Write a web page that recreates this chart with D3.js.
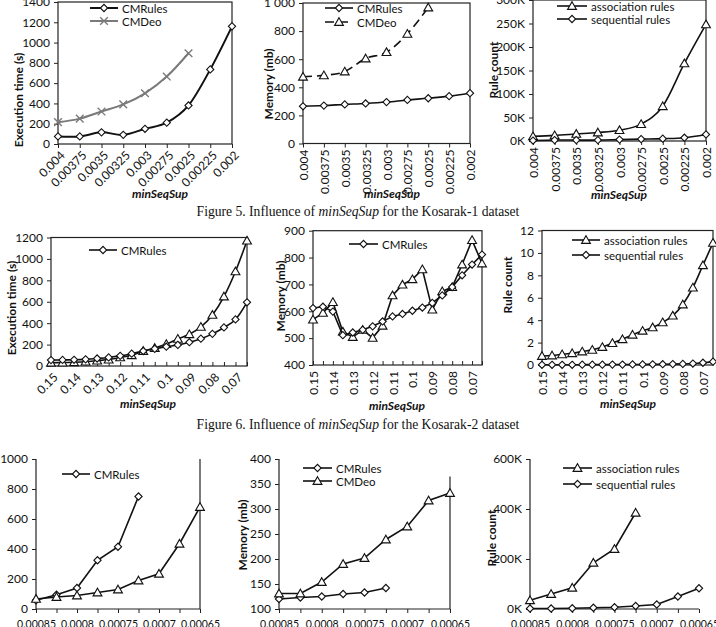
<!DOCTYPE html>
<html><head><meta charset="utf-8">
<script src="https://cdn.jsdelivr.net/npm/d3@7"></script>
<style>
body{margin:0;background:#fff}
svg text{font-family:Lato,"Open Sans",sans-serif;fill:#111}
</style>
</head><body>
<svg id="c" width="716" height="627"></svg>
<script>
// ---------- categories / tick labels ----------
const sup1 = ["0.004","0.00375","0.0035","0.00325","0.003","0.00275","0.0025","0.00225","0.002"];
const sup2 = ["0.15","0.145","0.14","0.135","0.13","0.125","0.12","0.115","0.11","0.105","0.1","0.095","0.09","0.085","0.08","0.075","0.07","0.065"];
const sup2Labels = ["0.15","0.14","0.13","0.12","0.11","0.1","0.09","0.08","0.07"];
const sup3 = ["0.00085","0.000825","0.0008","0.000775","0.00075","0.000725","0.0007","0.000675","0.00065"];
const sup3Labels = ["0.00085","0.0008","0.00075","0.0007","0.00065"];

// ---------- Figure 5 (Kosarak-1) ----------
const f5TimeCMRules = [75,75,115,90,150,210,380,735,1160];
const f5TimeCMDeo   = [215,250,320,390,500,665,895];
const f5MemCMRules  = [265,270,278,285,295,310,322,337,358];
const f5MemCMDeo    = [475,485,512,605,650,780,968];
const f5Assoc       = [10,12,15,18,23,36,74,165,248];   // thousands
const f5Seq         = [1,2,2,2,3,4,5,7,14];             // thousands
const f5TimeTicks = [0,200,400,600,800,1000,1200,1400];
const f5MemTicks  = [0,200,400,600,800,1000];
const f5RuleTicks = [0,50,100,150,200,250,300];

// ---------- Figure 6 (Kosarak-2) ----------
const f6TimeCMRules = [55,57,58,62,70,80,95,115,140,160,180,197,222,255,300,360,435,595];
const f6TimeOther   = [30,32,35,40,50,60,80,100,140,168,205,253,296,365,477,649,883,1170];
const f6MemCMRules  = [612,617,599,511,521,531,544,562,581,590,602,614,631,659,690,734,774,811];
const f6MemOther    = [569,594,634,524,504,531,501,546,659,699,719,756,606,674,690,774,865,778];
const f6Assoc       = [0.8,0.85,0.95,1.05,1.2,1.35,1.6,1.95,2.3,2.7,3.05,3.35,3.8,4.4,5.4,6.9,8.9,10.9];
const f6Seq         = [0.02,0.02,0.02,0.02,0.03,0.03,0.03,0.04,0.04,0.05,0.05,0.06,0.07,0.08,0.1,0.13,0.2,0.3];
const f6TimeTicks = [0,200,400,600,800,1000,1200];
const f6MemTicks  = [400,500,600,700,800,900];
const f6RuleTicks = [0,2,4,6,8,10,12];

// ---------- Figure 7 ----------
const f7TimeCMRules = [58,95,140,325,415,750];
const f7TimeOther   = [67,80,90,110,130,190,235,435,680];
const f7MemCMRules  = [120,123,125,130,133,142];
const f7MemCMDeo    = [131,131,154,190,202,239,265,317,332];
const f7Assoc       = [35,60,85,185,240,385];           // thousands
const f7Seq         = [2,2,3,5,7,12,18,50,83];          // thousands
const f7TimeTicks = [0,200,400,600,800,1000];
const f7MemTicks  = [100,150,200,250,300,350,400];
const f7RuleTicks = [0,200,400,600];

const svg = d3.select("#c");
const smooth = d3.curveCatmullRom.alpha(0);
const straight = d3.curveLinear;

function markerPath(type){
  if(type==="diamond") return d3.symbol(d3.symbolSquare, 26)();
  if(type==="triangle") return d3.symbol(d3.symbolTriangle, 34)();
  if(type==="x") return d3.symbol(d3.symbolTimes || d3.symbolX, 40)();
  return d3.symbol(d3.symbolCircle, 30)();
}
function markerTransform(type, px, py){
  if(type==="diamond") return `translate(${px},${py}) rotate(45)`;
  if(type==="triangle") return `translate(${px},${py+0.8})`;
  return `translate(${px},${py})`;
}

function panel(p){
  const g = svg.append("g");
  const x = d3.scalePoint().domain(p.cats).range([p.left, p.right]);
  const y = d3.scaleLinear().domain(p.yDomain).range([p.bottom, p.top]);

  // frame
  if(p.box){
    g.append("rect").attr("x",p.left).attr("y",p.top).attr("width",p.right-p.left)
     .attr("height",p.bottom-p.top).attr("fill","none").attr("stroke","#222").attr("stroke-width",1.2);
  } else {
    g.append("line").attr("x1",p.left).attr("x2",p.left).attr("y1",p.top).attr("y2",p.bottom)
     .attr("stroke","#222").attr("stroke-width",1.2);
    g.append("line").attr("x1",p.left).attr("x2",p.right).attr("y1",p.bottom).attr("y2",p.bottom)
     .attr("stroke","#222").attr("stroke-width",1.2);
    if(p.rightFrom!==undefined){
      g.append("line").attr("x1",p.right).attr("x2",p.right).attr("y1",y(p.rightFrom)).attr("y2",p.bottom)
       .attr("stroke","#222").attr("stroke-width",1.2);
    }
  }

  // y axis
  const ya = g.append("g").attr("transform",`translate(${p.left},0)`)
    .call(d3.axisLeft(y).tickValues(p.yTicks).tickFormat(p.yFmt).tickSize(4).tickPadding(4));
  ya.select(".domain").remove();
  ya.selectAll("line").attr("stroke","#222");
  ya.selectAll("text").attr("font-size",12).attr("fill","#111");

  // x tick marks (all categories)
  const xt = g.append("g").attr("transform",`translate(0,${p.bottom})`)
    .call(d3.axisBottom(x).tickFormat("").tickSize(p.xTickIn ? -4 : 4));
  xt.select(".domain").remove();
  xt.selectAll("line").attr("stroke","#222");

  // x labels
  const xl = g.append("g").attr("transform",`translate(0,${p.bottom})`)
    .call(d3.axisBottom(x).tickValues(p.xLabels).tickSize(0));
  xl.select(".domain").remove();
  const tx = xl.selectAll("text").attr("font-size",12).attr("fill","#111");
  if(p.rot===-45){
    tx.attr("text-anchor","end").attr("y",0).attr("dy",0)
      .attr("transform","translate(4,9) rotate(-45)").attr("dominant-baseline","central");
  } else if(p.rot===-90){
    tx.attr("text-anchor","end").attr("y",0).attr("x",0).attr("dy",0)
      .attr("transform","translate(0,6) rotate(-90)").attr("dominant-baseline","central");
  } else {
    tx.attr("y",p.xLabelY - p.bottom).attr("dy",0).attr("font-size",10.5);
  }

  // series
  p.series.forEach(s=>{
    const line = d3.line().x((d,i)=>x(p.cats[i])).y(d=>y(d)).curve(s.curve||straight);
    g.append("path").datum(s.values).attr("d",line).attr("fill","none")
      .attr("stroke",s.color||"#111").attr("stroke-width",s.width||1.6)
      .attr("stroke-dasharray",s.dash||null);
    g.selectAll(null).data(s.values).enter().append("path")
      .attr("d",markerPath(s.marker))
      .attr("transform",(d,i)=>markerTransform(s.marker,x(p.cats[i]),y(d)))
      .attr("fill",s.marker==="x"?"none":"#fff")
      .attr("stroke",s.color||"#111").attr("stroke-width",s.marker==="x"?1.4:1.1);
  });

  // legend
  (p.legend||[]).forEach(l=>{
    const s = p.series[l.idx];
    g.append("line").attr("x1",l.x1).attr("x2",l.x2).attr("y1",l.y).attr("y2",l.y)
      .attr("stroke",s.color||"#111").attr("stroke-width",s.width||1.6)
      .attr("stroke-dasharray",s.dash||null);
    g.append("path").attr("d",markerPath(s.marker))
      .attr("transform",markerTransform(s.marker,(l.x1+l.x2)/2,l.y))
      .attr("fill",s.marker==="x"?"none":"#fff")
      .attr("stroke",s.color||"#111").attr("stroke-width",s.marker==="x"?1.4:1.1);
    g.append("text").attr("x",l.x2+4).attr("y",l.y).attr("dominant-baseline","central")
      .attr("font-size",11.5).text(l.text);
  });

  // axis titles
  if(p.yTitle){
    g.append("text").attr("transform",`translate(${p.yTitle.x},${p.yTitle.y}) rotate(-90)`)
      .attr("text-anchor","middle").attr("dominant-baseline","central")
      .attr("font-size",12).attr("font-weight","bold").text(p.yTitle.text);
  }
  if(p.xTitle){
    g.append("text").attr("x",p.xTitle.x).attr("y",p.xTitle.y)
      .attr("text-anchor","middle").attr("dominant-baseline","central")
      .attr("font-size",12).attr("font-weight","bold").attr("font-style","italic").text("minSeqSup");
  }
}

const num = d=>d===1000?"1 000":String(d);
const kFmt = d=>d+"K";

// ---------- Row 1 ----------
panel({cats:sup1,xLabels:sup1,left:58,right:232,top:2,bottom:144,yDomain:[0,1400],yTicks:f5TimeTicks,yFmt:String,
  box:true,rot:-45,
  series:[{values:f5TimeCMRules,marker:"diamond",curve:smooth,width:2},
          {values:f5TimeCMDeo,marker:"x",curve:smooth,color:"#7a7a7a",width:2}],
  legend:[{idx:0,x1:90,x2:118,y:8,text:"CMRules"},{idx:1,x1:90,x2:118,y:21,text:"CMDeo"}],
  yTitle:{x:18,y:100,text:"Execution time (s)"},xTitle:{x:160,y:193}});

panel({cats:sup1,xLabels:sup1,left:303,right:470,top:3,bottom:143.5,yDomain:[0,1000],yTicks:f5MemTicks,yFmt:num,
  box:true,rot:-90,
  series:[{values:f5MemCMRules,marker:"diamond",curve:smooth},
          {values:f5MemCMDeo,marker:"triangle",curve:smooth,dash:"9,5"}],
  legend:[{idx:0,x1:325,x2:353,y:8,text:"CMRules"},{idx:1,x1:325,x2:353,y:22,text:"CMDeo"}],
  yTitle:{x:268,y:84,text:"Memory (mb)"},xTitle:{x:392,y:193}});

panel({cats:sup1,xLabels:sup1,left:533,right:706,top:0,bottom:141,yDomain:[0,300],yTicks:f5RuleTicks,yFmt:kFmt,
  box:true,rot:-90,
  series:[{values:f5Assoc,marker:"triangle",curve:smooth},
          {values:f5Seq,marker:"diamond",curve:smooth}],
  legend:[{idx:0,x1:557,x2:587,y:6,text:"association rules"},{idx:1,x1:557,x2:587,y:19,text:"sequential rules"}],
  yTitle:{x:493,y:70,text:"Rule count"},xTitle:{x:619,y:194}});

// ---------- Row 2 ----------
panel({cats:sup2,xLabels:sup2Labels,left:51,right:247,top:237.5,bottom:366,yDomain:[0,1200],yTicks:f6TimeTicks,yFmt:String,
  box:true,rot:-45,xTickIn:true,
  series:[{values:f6TimeOther,marker:"triangle",curve:smooth},
          {values:f6TimeCMRules,marker:"diamond",curve:smooth}],
  legend:[{idx:1,x1:89,x2:117,y:250,text:"CMRules"}],
  yTitle:{x:11,y:308,text:"Execution time (s)"},xTitle:{x:148,y:403}});

panel({cats:sup2,xLabels:sup2Labels,left:313,right:482,top:230.7,bottom:365,yDomain:[400,900],yTicks:f6MemTicks,yFmt:String,
  box:true,rot:-90,xTickIn:true,
  series:[{values:f6MemOther,marker:"triangle"},
          {values:f6MemCMRules,marker:"diamond"}],
  legend:[{idx:1,x1:349,x2:378,y:244,text:"CMRules"}],
  yTitle:{x:280,y:296,text:"Memory (mb)"},xTitle:{x:397,y:405}});

panel({cats:sup2,xLabels:sup2Labels,left:542,right:713,top:230.5,bottom:365,yDomain:[0,12],yTicks:f6RuleTicks,yFmt:String,
  box:true,rot:-90,xTickIn:true,
  series:[{values:f6Assoc,marker:"triangle",curve:smooth},
          {values:f6Seq,marker:"diamond",curve:smooth}],
  legend:[{idx:0,x1:572,x2:600,y:240,text:"association rules"},{idx:1,x1:572,x2:600,y:255,text:"sequential rules"}],
  yTitle:{x:507,y:285,text:"Rule count"},xTitle:{x:628,y:403}});

// ---------- Row 3 ----------
panel({cats:sup3,xLabels:sup3Labels,left:36,right:200,top:459,bottom:609,yDomain:[0,1000],yTicks:f7TimeTicks,yFmt:String,
  box:false,rightFrom:1000,xLabelY:628,
  series:[{values:f7TimeCMRules,marker:"diamond"},
          {values:f7TimeOther,marker:"triangle"}],
  legend:[{idx:0,x1:62,x2:90,y:474,text:"CMRules"}]});

panel({cats:sup3,xLabels:sup3Labels,left:279,right:450,top:459,bottom:609,yDomain:[100,400],yTicks:f7MemTicks,yFmt:String,
  box:false,rightFrom:365,xLabelY:628,
  series:[{values:f7MemCMRules,marker:"diamond"},
          {values:f7MemCMDeo,marker:"triangle"}],
  legend:[{idx:0,x1:303,x2:332,y:468,text:"CMRules"},{idx:1,x1:303,x2:332,y:481,text:"CMDeo"}],
  yTitle:{x:242,y:535,text:"Memory (mb)"}});

panel({cats:sup3,xLabels:sup3Labels,left:530,right:699,top:459,bottom:609,yDomain:[0,600],yTicks:f7RuleTicks,yFmt:kFmt,
  box:false,xLabelY:628,
  series:[{values:f7Assoc,marker:"triangle"},
          {values:f7Seq,marker:"diamond"}],
  legend:[{idx:0,x1:563,x2:592,y:468,text:"association rules"},{idx:1,x1:563,x2:592,y:484,text:"sequential rules"}],
  yTitle:{x:491,y:538,text:"Rule count"}});

// ---------- captions ----------
function caption(yPos, num, ds){
  const t = svg.append("text").attr("x",358).attr("y",yPos).attr("text-anchor","middle")
    .style("font-family","'Liberation Serif','Times New Roman',serif").attr("font-size",13.6);
  t.append("tspan").text(`Figure ${num}. Influence of `);
  t.append("tspan").attr("font-style","italic").text("minSeqSup");
  t.append("tspan").text(` for the ${ds} dataset`);
}
caption(216, 5, "Kosarak-1");
caption(429, 6, "Kosarak-2");
</script>
</body></html>
